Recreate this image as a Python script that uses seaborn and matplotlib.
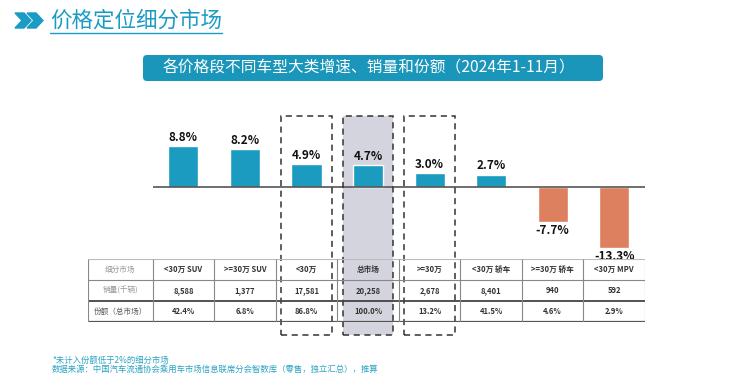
import matplotlib
matplotlib.use("Agg")
import matplotlib.pyplot as plt
import matplotlib.transforms as mtransforms
from matplotlib.patches import Rectangle, FancyBboxPatch, Polygon
import seaborn as sns
import pandas as pd

sns.set_theme(style="white")
plt.rcParams["font.family"] = ["Noto Sans CJK SC", "DejaVu Sans"]

# data
segments = ["<30万 SUV", ">=30万 SUV", "<30万", "总市场", ">=30万",
            "<30万 轿车", ">=30万 轿车", "<30万 MPV"]
growth = [8.8, 8.2, 4.9, 4.7, 3.0, 2.7, -7.7, -13.3]
sales_k = [8588, 1377, 17581, 20258, 2678, 8401, 940, 592]
share = [42.4, 6.8, 86.8, 100.0, 13.2, 41.5, 4.6, 2.9]
row_labels = ["细分市场", "销量(千辆)", "份额（总市场）"]
boxed = [2, 3, 4]      # dashed boxes
shaded = 3             # total market column

TEAL = "#1b9bc0"
ORANGE = "#dc8060"

df = pd.DataFrame({"segment": segments, "growth": growth})
df["sign"] = ["pos" if g >= 0 else "neg" for g in growth]

W, H = 744, 376
fig = plt.figure(figsize=(W / 100, H / 100), dpi=100)
fig.patch.set_facecolor("white")

def px_axes(x0, y0, x1, y1):
    return fig.add_axes([x0 / W, 1 - y1 / H, (x1 - x0) / W, (y1 - y0) / H])

# decorations (title, banner, footnote)
deco = px_axes(0, 0, W, H)
deco.set_xlim(0, W)
deco.set_ylim(H, 0)
deco.axis("off")
deco.set_zorder(-5)
for dx in (0, 12):
    deco.add_patch(Polygon([(15 + dx, 13), (24 + dx, 13), (31 + dx, 20.5),
                            (24 + dx, 28), (15 + dx, 28), (22 + dx, 20.5)],
                           closed=True, color="#1a9bc4"))
deco.text(50, 21, "价格定位细分市场", fontsize=15.5, color="#1a9bc4",
          ha="left", va="center")
deco.plot([50, 222], [33, 33], color="#1a9bc4", lw=1)
deco.add_patch(FancyBboxPatch((143, 55), 460, 26,
                              boxstyle="round,pad=0,rounding_size=4",
                              fc="#1a96bb", ec="none"))
deco.text(369, 68, "各价格段不同车型大类增速、销量和份额（2024年1-11月）",
          fontsize=11.3, color="white", ha="center", va="center")
deco.text(52, 360, "*未计入份额低于2%的细分市场", fontsize=6, color="#2aa3c2",
          ha="left", va="center")
deco.text(52, 369, "数据来源：中国汽车流通协会乘用车市场信息联席分会智数库（零售，独立汇总），推算",
          fontsize=6, color="#2aa3c2", ha="left", va="center")

# bar chart
XMIN, XMAX = -1.55, 7.5
ax = px_axes(88, 105, 645, 262)
sns.barplot(data=df, x="segment", y="growth", hue="sign", order=segments,
            palette={"pos": TEAL, "neg": ORANGE}, width=0.49, legend=False,
            saturation=1, ax=ax, zorder=3)
for c in ax.containers:
    ax.bar_label(c, labels=[f"{v:.1f}%" for v in c.datavalues], padding=1.5,
                 fontsize=8.5, fontweight="bold", color="#111111")
ax.hlines(0, -0.5, XMAX, color="#555555", lw=1.2, zorder=4)
ax.set_xlim(XMIN, XMAX)
ax.set_ylim(-16.3, 17.8)
ax.axis("off")
ax.patch.set_alpha(0)

trans = mtransforms.blended_transform_factory(ax.transData, ax.transAxes)
top_f, bot_f = 0.93, -0.465
ax.add_patch(Rectangle((shaded - 0.4, bot_f), 0.8, top_f - bot_f,
                       transform=trans, fc="#d4d4de", ec="none",
                       clip_on=False, zorder=0))
for i in boxed:
    ax.add_patch(Rectangle((i - 0.41, bot_f), 0.82, top_f - bot_f,
                           transform=trans, fc="none", ec="#333333",
                           lw=1.1, ls=(0, (4, 3)), clip_on=False, zorder=5))

# table
tab = px_axes(88, 259, 645, 322)
tab.set_xlim(XMIN, XMAX)
tab.set_ylim(3, 0)
tab.axis("off")
tab.patch.set_alpha(0)
tab.hlines(0, XMIN, XMAX, color="#bbbbbb", lw=0.8)
tab.hlines(1, XMIN, XMAX, color="#888888", lw=0.8)
tab.hlines(2, XMIN, XMAX, color="#444444", lw=1.3)
tab.hlines(3, XMIN, XMAX, color="#555555", lw=1.6)
for xv in [XMIN] + [i - 0.5 for i in range(len(segments) + 1)]:
    tab.vlines(xv, 0, 3, color="#888888", lw=0.8)

label_x = (XMIN - 0.5) / 2
for r, lab in enumerate(row_labels):
    tab.text(label_x, r + 0.5, lab, ha="center", va="center", fontsize=5.5,
             color="#555555" if r == 2 else "#999999")
for i, seg in enumerate(segments):
    tab.text(i, 0.5, seg, ha="center", va="center", fontsize=5.5,
             fontweight="bold", color="#333333")
    tab.text(i, 1.5, f"{sales_k[i]:,}", ha="center", va="center",
             fontsize=5.5, fontweight="bold", color="#333333")
    tab.text(i, 2.5, f"{share[i]:.1f}%", ha="center", va="center",
             fontsize=5.5, fontweight="bold", color="#333333")

fig.savefig("out.png", dpi=100)
